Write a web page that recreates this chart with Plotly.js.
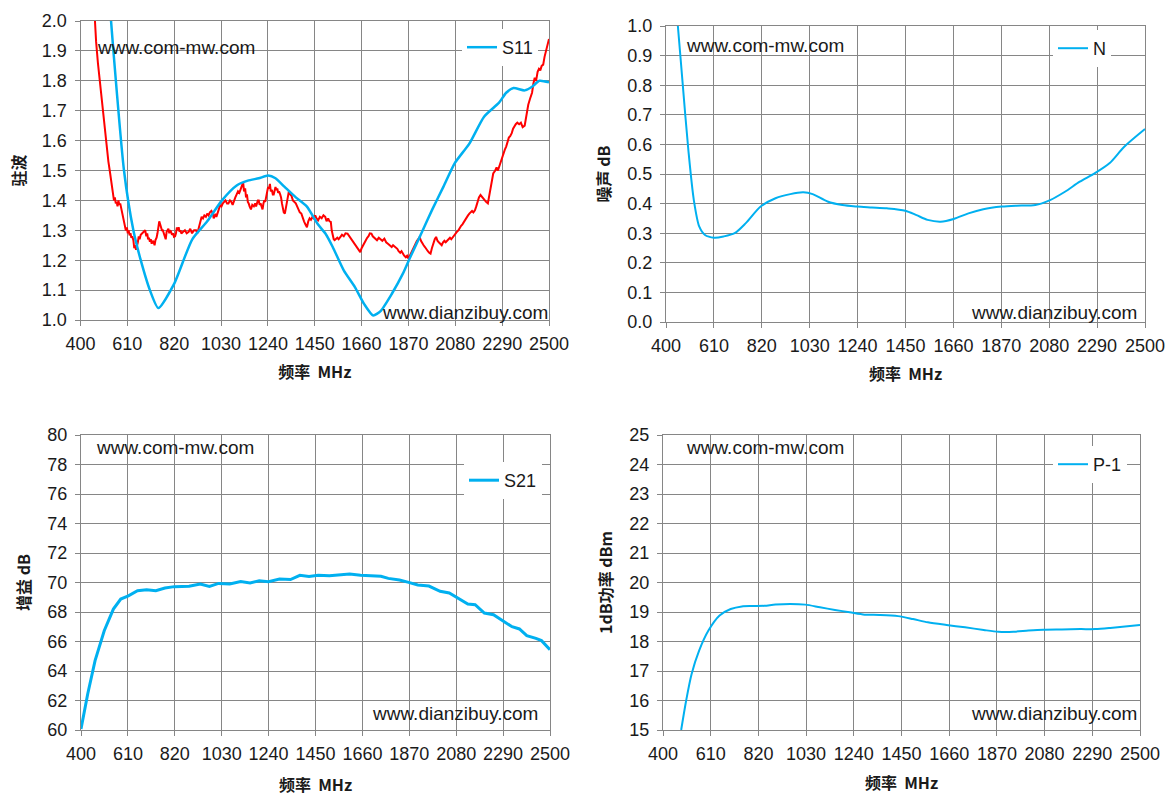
<!DOCTYPE html>
<html>
<head>
<meta charset="utf-8">
<script src="https://cdn.plot.ly/plotly-3.0.1.min.js"></script>
<style>html,body{margin:0;padding:0;background:#fff;}#chart{width:1172px;height:809px;}</style>
</head>
<body>
<div id="chart"></div>
<script>
// ---------- data ----------
const xTicks = [400, 610, 820, 1030, 1240, 1450, 1660, 1870, 2080, 2290, 2500];

// S11 (blue, smooth)
const s11Freq = [520, 537, 595, 637, 670, 711, 749, 819, 901, 968, 1034, 1100, 1150, 1199, 1241, 1274, 1315, 1365, 1414, 1464, 1497, 1530, 1580, 1630, 1671, 1712, 1745, 1795, 1845, 1878, 1928, 1977, 2027, 2077, 2143, 2209, 2275, 2308, 2341, 2391, 2424, 2457, 2500];
const s11Vals = [2.2, 2.0, 1.5, 1.3, 1.2, 1.1, 1.04, 1.12, 1.27, 1.33, 1.40, 1.45, 1.466, 1.474, 1.483, 1.474, 1.445, 1.41, 1.38, 1.32, 1.29, 1.245, 1.166, 1.11, 1.054, 1.015, 1.03, 1.087, 1.155, 1.21, 1.29, 1.37, 1.446, 1.524, 1.59, 1.68, 1.726, 1.76, 1.776, 1.768, 1.78, 1.80, 1.795];

// measured VSWR (red, noisy) as [MHz, VSWR] pairs
const vswrPoints = [[450,2.2],[463,2.0],[470,1.93],[478,1.86],[488,1.79],[494,1.74],[500,1.70],[506,1.65],[512,1.60],[518,1.56],[525,1.53],[531,1.50],[537,1.47],[545,1.44],[550,1.40],[554,1.41],[558,1.39],[562,1.395],[566,1.38],[570,1.40],[574,1.385],[578,1.39],[584,1.37],[590,1.35],[596,1.32],[603,1.30],[608,1.31],[612,1.29],[616,1.30],[620,1.283],[624,1.29],[628,1.275],[632,1.28],[637,1.267],[641,1.24],[645,1.25],[649,1.235],[653,1.244],[657,1.26],[661,1.28],[665,1.27],[670,1.285],[678,1.29],[686,1.295],[690,1.30],[695,1.28],[699,1.29],[703,1.27],[707,1.275],[711,1.262],[715,1.27],[719,1.255],[724,1.265],[728,1.26],[732,1.25],[736,1.267],[741,1.275],[745,1.29],[749,1.31],[753,1.33],[757,1.32],[761,1.31],[765,1.30],[769,1.30],[774,1.29],[778,1.285],[782,1.27],[786,1.295],[790,1.30],[794,1.305],[798,1.29],[802,1.30],[806,1.295],[810,1.285],[815,1.29],[819,1.278],[824,1.28],[828,1.29],[832,1.31],[836,1.30],[840,1.31],[844,1.295],[848,1.30],[852,1.289],[860,1.295],[868,1.30],[876,1.29],[885,1.295],[892,1.305],[900,1.29],[909,1.30],[918,1.30],[924,1.29],[930,1.31],[936,1.32],[943,1.345],[949,1.34],[955,1.35],[962,1.345],[968,1.356],[974,1.35],[980,1.36],[987,1.365],[993,1.356],[997,1.34],[1001,1.35],[1005,1.355],[1009,1.345],[1014,1.36],[1018,1.37],[1022,1.375],[1026,1.384],[1032,1.38],[1038,1.39],[1044,1.395],[1050,1.40],[1057,1.39],[1063,1.39],[1070,1.40],[1076,1.395],[1082,1.385],[1088,1.40],[1094,1.41],[1100,1.42],[1106,1.43],[1112,1.425],[1119,1.44],[1125,1.45],[1129,1.46],[1133,1.43],[1138,1.44],[1142,1.41],[1146,1.42],[1150,1.395],[1154,1.39],[1158,1.38],[1164,1.37],[1170,1.385],[1177,1.38],[1183,1.39],[1187,1.38],[1191,1.39],[1195,1.40],[1199,1.40],[1203,1.385],[1207,1.39],[1212,1.375],[1216,1.37],[1220,1.39],[1224,1.40],[1228,1.395],[1233,1.41],[1237,1.43],[1241,1.445],[1245,1.44],[1249,1.455],[1253,1.43],[1258,1.435],[1262,1.42],[1266,1.42],[1270,1.43],[1274,1.445],[1278,1.435],[1282,1.44],[1286,1.425],[1290,1.43],[1295,1.42],[1299,1.41],[1303,1.39],[1307,1.37],[1311,1.36],[1316,1.356],[1322,1.38],[1328,1.40],[1334,1.43],[1340,1.42],[1346,1.415],[1352,1.40],[1358,1.395],[1365,1.39],[1371,1.38],[1377,1.37],[1383,1.36],[1390,1.356],[1396,1.34],[1402,1.33],[1408,1.32],[1415,1.31],[1421,1.33],[1427,1.34],[1433,1.335],[1440,1.345],[1446,1.34],[1452,1.35],[1458,1.34],[1465,1.333],[1473,1.345],[1481,1.34],[1489,1.35],[1497,1.345],[1503,1.33],[1510,1.34],[1516,1.33],[1522,1.328],[1526,1.30],[1530,1.28],[1535,1.27],[1539,1.267],[1545,1.27],[1551,1.275],[1557,1.27],[1564,1.278],[1572,1.285],[1580,1.28],[1588,1.29],[1597,1.289],[1605,1.28],[1613,1.27],[1621,1.265],[1630,1.255],[1636,1.245],[1642,1.24],[1648,1.235],[1654,1.227],[1660,1.24],[1666,1.25],[1672,1.26],[1679,1.267],[1685,1.275],[1691,1.28],[1697,1.29],[1704,1.289],[1710,1.28],[1716,1.275],[1722,1.27],[1729,1.267],[1737,1.275],[1745,1.27],[1753,1.265],[1762,1.272],[1770,1.26],[1778,1.255],[1786,1.25],[1795,1.244],[1801,1.25],[1808,1.245],[1814,1.24],[1820,1.238],[1826,1.23],[1833,1.225],[1839,1.23],[1845,1.222],[1851,1.215],[1858,1.21],[1864,1.215],[1870,1.205],[1876,1.215],[1882,1.225],[1888,1.235],[1895,1.244],[1901,1.255],[1908,1.265],[1914,1.27],[1920,1.278],[1926,1.265],[1932,1.255],[1938,1.25],[1944,1.244],[1950,1.235],[1957,1.23],[1963,1.225],[1969,1.222],[1975,1.24],[1982,1.26],[1988,1.27],[1994,1.278],[2000,1.265],[2006,1.26],[2012,1.255],[2019,1.25],[2025,1.26],[2031,1.265],[2037,1.26],[2044,1.267],[2050,1.27],[2056,1.275],[2062,1.27],[2069,1.278],[2075,1.285],[2081,1.29],[2087,1.295],[2094,1.30],[2100,1.31],[2106,1.315],[2112,1.32],[2118,1.328],[2124,1.335],[2131,1.345],[2137,1.35],[2143,1.356],[2149,1.36],[2155,1.365],[2161,1.36],[2168,1.367],[2174,1.38],[2180,1.395],[2186,1.41],[2193,1.418],[2201,1.41],[2210,1.40],[2218,1.395],[2226,1.39],[2234,1.42],[2242,1.46],[2250,1.49],[2259,1.50],[2265,1.51],[2271,1.50],[2277,1.515],[2284,1.524],[2290,1.54],[2296,1.56],[2302,1.57],[2308,1.58],[2314,1.595],[2320,1.61],[2326,1.615],[2333,1.625],[2339,1.64],[2345,1.65],[2351,1.655],[2358,1.66],[2366,1.655],[2374,1.66],[2382,1.645],[2391,1.65],[2399,1.69],[2407,1.72],[2415,1.74],[2424,1.76],[2430,1.79],[2436,1.81],[2442,1.80],[2449,1.83],[2455,1.84],[2461,1.835],[2467,1.85],[2474,1.854],[2480,1.88],[2487,1.90],[2493,1.92],[2500,1.94]];
const vswrFreq = vswrPoints.map(p => p[0]);
const vswrVals = vswrPoints.map(p => p[1]);

// Noise figure N
const nFreq = [440, 452, 473, 498, 522, 546, 571, 611, 652, 701, 750, 815, 880, 945, 1002, 1043, 1108, 1173, 1238, 1303, 1368, 1449, 1498, 1547, 1604, 1661, 1726, 1791, 1872, 1937, 2019, 2084, 2149, 2214, 2279, 2344, 2409, 2500];
const nVals = [1.1, 1.0, 0.806, 0.581, 0.412, 0.322, 0.294, 0.285, 0.289, 0.30, 0.334, 0.39, 0.418, 0.432, 0.438, 0.432, 0.407, 0.395, 0.39, 0.387, 0.384, 0.376, 0.361, 0.345, 0.339, 0.348, 0.367, 0.381, 0.39, 0.393, 0.395, 0.412, 0.44, 0.474, 0.502, 0.536, 0.592, 0.652];

// Gain S21
const s21Freq = [400, 430, 463, 504, 545, 578, 612, 653, 694, 735, 776, 818, 884, 934, 975, 1016, 1066, 1115, 1157, 1198, 1239, 1289, 1338, 1380, 1421, 1462, 1512, 1562, 1603, 1652, 1694, 1743, 1776, 1826, 1867, 1908, 1958, 2008, 2049, 2090, 2132, 2165, 2206, 2247, 2289, 2330, 2363, 2396, 2437, 2462, 2500];
const s21Vals = [60.07, 62.44, 64.7, 66.73, 68.2, 68.88, 69.1, 69.44, 69.5, 69.44, 69.63, 69.72, 69.74, 69.9, 69.74, 69.94, 69.9, 70.06, 69.97, 70.12, 70.06, 70.24, 70.2, 70.49, 70.4, 70.49, 70.46, 70.51, 70.58, 70.49, 70.46, 70.42, 70.28, 70.17, 70.01, 69.83, 69.76, 69.4, 69.29, 68.93, 68.54, 68.5, 67.93, 67.82, 67.41, 67.0, 66.85, 66.4, 66.21, 66.06, 65.45];

// P-1dB
const p1Freq = [480, 502, 526, 559, 600, 649, 698, 747, 796, 846, 895, 960, 1026, 1091, 1157, 1222, 1288, 1353, 1435, 1501, 1566, 1648, 1730, 1812, 1877, 1943, 2009, 2074, 2156, 2238, 2303, 2369, 2434, 2500];
const p1Vals = [15.0, 16.0, 16.9, 17.69, 18.37, 18.88, 19.1, 19.19, 19.2, 19.21, 19.25, 19.27, 19.25, 19.16, 19.07, 18.99, 18.91, 18.9, 18.86, 18.76, 18.65, 18.56, 18.48, 18.39, 18.33, 18.33, 18.37, 18.40, 18.41, 18.42, 18.42, 18.46, 18.51, 18.56];

// ---------- layout helpers ----------
const W = 1172, H = 809;
const px = v => v / W;
const py = v => 1 - v / H;
const BLUE = '#00B0F0', RED = '#FF0000', GRID = '#868686';
const tickFont = {family: 'Liberation Sans, Arial, sans-serif', size: 18, color: '#1a1a1a'};
const titleFont = {family: 'Noto Sans CJK SC, sans-serif', size: 16, color: '#1a1a1a', weight: 'bold'};

function xAxis(domain, anchor, standoff) {
  return {
    domain: domain, anchor: anchor, range: [400, 2500], tickvals: xTicks,
    showgrid: true, gridcolor: GRID, gridwidth: 1, zeroline: false,
    showline: true, linecolor: GRID, linewidth: 1, mirror: true,
    ticks: 'outside', ticklen: 5, tickcolor: GRID, tickfont: tickFont, ticklabelstandoff: 2,
    title: {text: '频率  MHz', font: titleFont, standoff: standoff}
  };
}
function yAxis(domain, anchor, range, dtick, fmt, title) {
  return {
    domain: domain, anchor: anchor, range: range, dtick: dtick, tick0: range[0], tickformat: fmt,
    showgrid: true, gridcolor: GRID, gridwidth: 1, zeroline: false,
    showline: true, linecolor: GRID, linewidth: 1, mirror: true,
    ticks: 'outside', ticklen: 5, tickcolor: GRID, tickfont: tickFont, ticklabelstandoff: 4,
    title: {text: title, font: titleFont, standoff: 12}
  };
}
function legendAt(xp, yp) {
  return {x: px(xp), y: py(yp), xanchor: 'left', yanchor: 'top', bgcolor: '#ffffff',
          borderwidth: 0, font: {family: 'Liberation Sans, Arial, sans-serif', size: 18, color: '#1a1a1a'}};
}
const wmFont = {family: 'Liberation Sans, Arial, sans-serif', size: 19, color: '#1a1a1a'};
function wm(text, xp, yp, anchor) {
  return {text: text, xref: 'paper', yref: 'paper', x: px(xp), y: py(yp), xanchor: anchor, yanchor: 'middle',
          showarrow: false, font: wmFont};
}

const traces = [
  {x: vswrFreq, y: vswrVals, type: 'scatter', mode: 'lines', line: {color: RED, width: 2}, showlegend: false, xaxis: 'x', yaxis: 'y', name: 'VSWR'},
  {x: s11Freq, y: s11Vals, type: 'scatter', mode: 'lines', line: {color: BLUE, width: 2.5, shape: 'spline', smoothing: 0.6}, name: 'S11', xaxis: 'x', yaxis: 'y', legend: 'legend'},
  {x: nFreq, y: nVals, type: 'scatter', mode: 'lines', line: {color: BLUE, width: 2, shape: 'spline', smoothing: 0.8}, name: 'N', xaxis: 'x2', yaxis: 'y2', legend: 'legend2'},
  {x: s21Freq, y: s21Vals, type: 'scatter', mode: 'lines', line: {color: BLUE, width: 3}, name: 'S21', xaxis: 'x3', yaxis: 'y3', legend: 'legend3'},
  {x: p1Freq, y: p1Vals, type: 'scatter', mode: 'lines', line: {color: BLUE, width: 2, shape: 'spline', smoothing: 0.8}, name: 'P-1', xaxis: 'x4', yaxis: 'y4', legend: 'legend4'}
];

const layout = {
  width: W, height: H, margin: {l: 0, r: 0, t: 0, b: 0},
  paper_bgcolor: '#ffffff', plot_bgcolor: '#ffffff',
  xaxis: xAxis([px(80.5), px(549)], 'y', 14),
  yaxis: yAxis([py(320), py(21)], 'x', [1.0, 2.0], 0.1, '.1f', '驻波'),
  xaxis2: xAxis([px(666), px(1145)], 'y2', 14),
  yaxis2: yAxis([py(322), py(26)], 'x2', [0.0, 1.0], 0.1, '.1f', '噪声 dB'),
  xaxis3: xAxis([px(81), px(550)], 'y3', 17),
  yaxis3: yAxis([py(730), py(435)], 'x3', [60, 80], 2, 'd', '增益 dB'),
  xaxis4: xAxis([px(663), px(1140)], 'y4', 15),
  yaxis4: yAxis([py(730), py(435)], 'x4', [15, 25], 1, 'd', '1dB功率 dBm'),
  legend: legendAt(462, 29),
  legend2: legendAt(1053, 30),
  legend3: legendAt(464, 462),
  legend4: legendAt(1053, 446),
  annotations: [
    wm('www.com-mw.com', 95, 47, 'left'),
    wm('www.dianzibuy.com', 550, 313, 'right'),
    wm('www.com-mw.com', 684, 46, 'left'),
    wm('www.dianzibuy.com', 1139, 313, 'right'),
    wm('www.com-mw.com', 94, 447, 'left'),
    wm('www.dianzibuy.com', 540, 713, 'right'),
    wm('www.com-mw.com', 684, 447, 'left'),
    wm('www.dianzibuy.com', 1139, 713, 'right')
  ],
  showlegend: true
};

Plotly.newPlot('chart', traces, layout, {staticPlot: true, displayModeBar: false});
</script>
</body>
</html>
